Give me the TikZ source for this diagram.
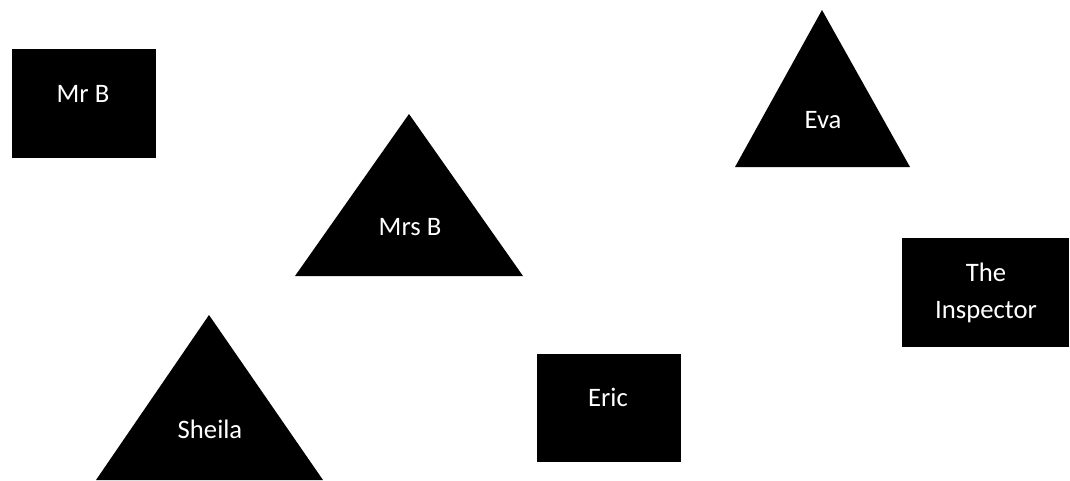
\documentclass[tikz,border=0pt]{standalone}
\usepackage{fontspec}
\setmainfont{Carlito}
\begin{document}
\begin{tikzpicture}[x=0.75pt,y=-0.75pt,
  lbl/.style={text=white,font=\fontsize{20}{27.5}\selectfont,inner sep=0pt},
  box/.style={fill=black}]
\useasboundingbox (0,0) rectangle (1070,480);
% rectangles
\fill[box] (12,49) rectangle (156,158);
\fill[box] (902,238) rectangle (1069,347);
\fill[box] (537,354) rectangle (681,462);
% triangles
\fill[box] (409,114) -- (523,276) -- (295,276) -- cycle;
\fill[box] (822,10) -- (910,167) -- (735,167) -- cycle;
\fill[box] (209,315) -- (323,480) -- (96,480) -- cycle;
% labels
\node[lbl,anchor=base] (mrb) at (83,102) {Mr B};
\node[lbl,anchor=base] (mrsb) at (410,235) {Mrs B};
\node[lbl,anchor=base] (eva) at (823,128) {Eva};
\node[lbl,anchor=base] (sheila) at (210,438) {Sheila};
\node[lbl,anchor=base] (eric) at (608,406) {Eric};
\node[lbl,align=center] (insp) at (986,293) {The\\Inspector};
\end{tikzpicture}
\end{document}
